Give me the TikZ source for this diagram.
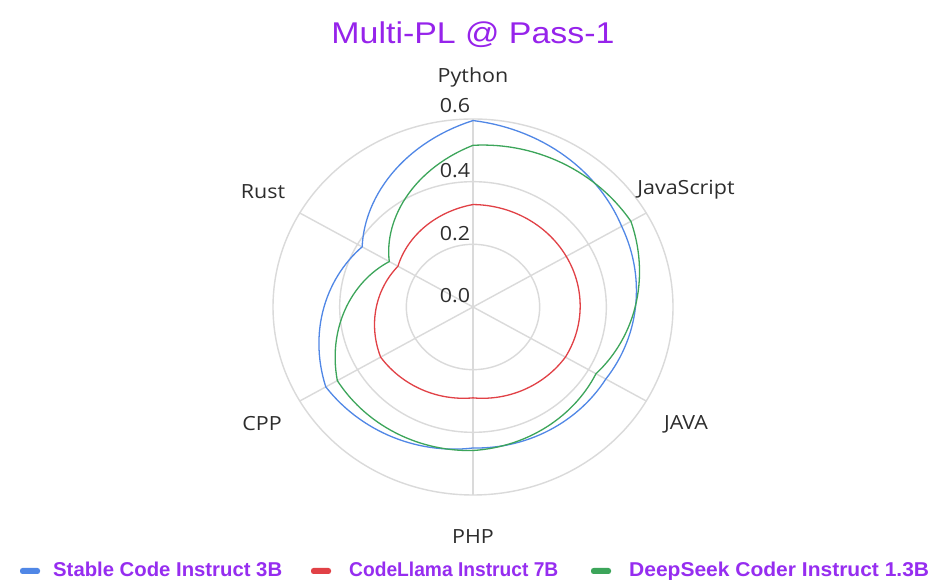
\documentclass[tikz,border=0pt]{standalone}
\usepackage{fontspec}
\usepackage{graphicx}
\newfontfamily\lblfont[FakeStretch=1.1]{Open Sans}
\newfontfamily\ttlfont[FakeStretch=1.13]{Liberation Sans}
\newfontfamily\legfont{Liberation Sans}
\definecolor{ttlpurple}{RGB}{150,35,235}
\definecolor{legpurple}{RGB}{150,45,240}
\definecolor{gridgray}{RGB}{218,218,218}
\definecolor{txtgray}{RGB}{45,45,45}
\definecolor{sblue}{RGB}{80,135,230}
\definecolor{sred}{RGB}{225,65,70}
\definecolor{sgreen}{RGB}{60,165,90}
\tikzset{
  gridline/.style={draw=gridgray, line width=1.4pt},
  axlabel/.style={font=\lblfont\fontsize{19.5}{22}\selectfont, text=txtgray, inner sep=0pt},
  ticklabel/.style={font=\lblfont\fontsize{19.5}{22}\selectfont, text=txtgray, inner sep=0pt},
  series/.style={line width=1.3pt, line join=miter},
  legtext/.style={font=\legfont\bfseries\fontsize{20}{23}\selectfont, text=legpurple, inner sep=0pt, anchor=base west},
  legmark/.style={rounded corners=2.5pt, minimum width=20pt, minimum height=6pt, inner sep=0pt},
}
% polar-interpolated radar series: #1 style, #2..#7 values at 90,30,-30,-90,-150,150 deg
\newcommand{\radarseries}[7]{%
  \draw[series,#1]
    plot[domain=90:30, samples=31] (\x:{#2+(#3-#2)*(90-\x)/60})
    -- plot[domain=30:-30, samples=31] (\x:{#3+(#4-#3)*(30-\x)/60})
    -- plot[domain=-30:-90, samples=31] (\x:{#4+(#5-#4)*(-30-\x)/60})
    -- plot[domain=-90:-150, samples=31] (\x:{#5+(#6-#5)*(-90-\x)/60})
    -- plot[domain=210:150, samples=31] (\x:{#6+(#7-#6)*(210-\x)/60})
    -- plot[domain=150:90, samples=31] (\x:{#7+(#2-#7)*(150-\x)/60})
    -- cycle;}
\begin{document}
\begin{tikzpicture}[x=1pt,y=1pt]
\useasboundingbox[fill=white] (0,0) rectangle (931,580);
% title
\node[font=\ttlfont\fontsize{30}{34}\selectfont, text=ttlpurple, inner sep=0pt] (title) at (473,545) {Multi-PL @ Pass-1};
% radar
\begin{scope}[shift={(473,273)}, x={(333.33pt,0pt)}, y={(0pt,313.33pt)}]
  \coordinate (ctr) at (0,0);
  \foreach \r/\rx/\ry in {0.2/66.67/62.67, 0.4/133.33/125.33, 0.6/200/188}
    \draw[gridline] (ctr) ellipse [x radius=\rx pt, y radius=\ry pt];
  \foreach \a/\n in {90/py, 30/js, -30/ja, -90/php, -150/cpp, 150/rs}
    \draw[gridline] (ctr) -- (\a:0.6) coordinate (ax\n);
  \radarseries{sblue}{0.595}{0.515}{0.46}{0.45}{0.51}{0.384}
  \radarseries{sred}{0.327}{0.323}{0.32}{0.29}{0.32}{0.26}
  \radarseries{sgreen}{0.516}{0.547}{0.426}{0.458}{0.47}{0.29}
\end{scope}
% tick labels
\node[ticklabel] (t6) at (455,474) {0.6};
\node[ticklabel] (t4) at (455,409) {0.4};
\node[ticklabel] (t2) at (455,346) {0.2};
\node[ticklabel] (t0) at (455,284) {0.0};
% axis labels
\node[axlabel] (lpy) at (473,503) {Python};
\node[axlabel] (ljs) at (686,390) {JavaScript};
\node[axlabel] (lja) at (686,156) {JAVA};
\node[axlabel] (lphp) at (473,43) {PHP};
\node[axlabel] (lcpp) at (262,156) {CPP};
\node[axlabel] (lrs) at (263,388) {Rust};
% legend
\node[legmark, fill=sblue] (m1) at (30,9) {};
\node[legtext] (l1) at (53,3) {\scalebox{1.015}[1]{Stable Code Instruct 3B}};
\node[legmark, fill=sred] (m2) at (321,9) {};
\node[legtext] (l2) at (349,3) {\scalebox{0.96}[1]{CodeLlama Instruct 7B}};
\node[legmark, fill=sgreen] (m3) at (601,9) {};
\node[legtext] (l3) at (629,3) {\scalebox{1.05}[1]{DeepSeek Coder Instruct 1.3B}};
\end{tikzpicture}
\end{document}
